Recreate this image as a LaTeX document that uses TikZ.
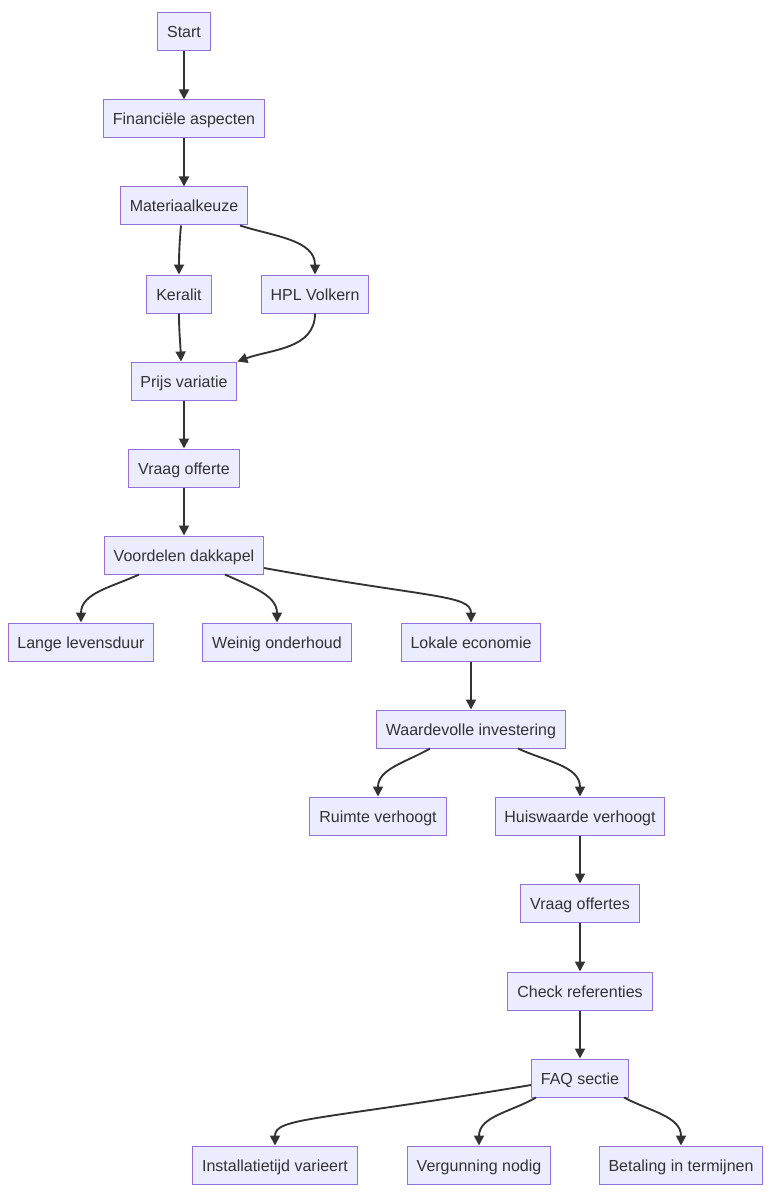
\documentclass[tikz,border=0pt]{standalone}
\usepackage{fontspec}
\setmainfont{Liberation Sans}
\usetikzlibrary{arrows.meta,calc}
\definecolor{mmfill}{HTML}{ECECFF}
\definecolor{mmrand}{HTML}{9370DB}
\definecolor{mmtekst}{HTML}{333333}
\begin{document}
\begin{tikzpicture}[x=0.75pt, y=-0.75pt,
	blok/.style={draw=mmrand, fill=mmfill, line width=0.75pt, text=mmtekst, minimum height=28.5pt, inner xsep=7pt, text height=11pt, text depth=2pt, font=\fontsize{12pt}{14pt}\selectfont},
	pijl/.style={draw=mmtekst, line width=1.4pt, -{Triangle[length=7.5pt, width=7.5pt]}}]
	\useasboundingbox (0,0) rectangle (779,1198);
	\node[blok] (start) at (184,32) {Start};
	\node[blok] (fin) at (184,119) {Financiële aspecten};
	\node[blok] (mat) at (184,206) {Materiaalkeuze};
	\node[blok] (ker) at (179,294) {Keralit};
	\node[blok] (hpl) at (315,294) {HPL Volkern};
	\node[blok] (prijs) at (184,381) {Prijs variatie};
	\node[blok] (vraag) at (184,468) {Vraag offerte};
	\node[blok] (voord) at (184,555) {Voordelen dakkapel};
	\node[blok] (lange) at (81,642) {Lange levensduur};
	\node[blok] (weinig) at (277,642) {Weinig onderhoud};
	\node[blok] (lokaal) at (471,642) {Lokale economie};
	\node[blok] (waarde) at (471,729) {Waardevolle investering};
	\node[blok] (ruimte) at (378,816) {Ruimte verhoogt};
	\node[blok] (huis) at (580,816) {Huiswaarde verhoogt};
	\node[blok] (offertes) at (580,903) {Vraag offertes};
	\node[blok] (check) at (580,991) {Check referenties};
	\node[blok] (faq) at (580,1078) {FAQ sectie};
	\node[blok] (install) at (275,1165) {Installatietijd varieert};
	\node[blok] (verg) at (479,1165) {Vergunning nodig};
	\node[blok] (betaling) at (681,1165) {Betaling in termijnen};
	\draw[pijl] (start) -- (fin);
	\draw[pijl] (fin) -- (mat);
	\draw[pijl] ($(mat.south)+(-3,0)$) to[out=-95, in=90] (ker.north);
	\draw[pijl] ($(mat.south)+(56,0)$) to[out=-18, in=90] (hpl.north);
	\draw[pijl] (ker.south) to[out=-90, in=92] ($(prijs.north)+(-3,0)$);
	\draw[pijl] (hpl.south) to[out=-90, in=20] (prijs.north east);
	\draw[pijl] (prijs) -- (vraag);
	\draw[pijl] (vraag) -- (voord);
	\draw[pijl] ($(voord.south)+(-45,0)$) to[out=-155, in=90] (lange.north);
	\draw[pijl] ($(voord.south)+(41,0)$) to[out=-25, in=90] (weinig.north);
	\draw[pijl] ($(voord.east)+(0,13)$) .. controls +(165,30) and +(0,-28) .. (lokaal.north);
	\draw[pijl] (lokaal) -- (waarde);
	\draw[pijl] ($(waarde.south)+(-41,0)$) to[out=-150, in=90] (ruimte.north);
	\draw[pijl] ($(waarde.south)+(47,0)$) to[out=-25, in=90] (huis.north);
	\draw[pijl] (huis) -- (offertes);
	\draw[pijl] (offertes) -- (check);
	\draw[pijl] (check) -- (faq);
	\draw[pijl] ($(faq.west)+(0,7)$) .. controls +(-215,36) and +(0,-28) .. (install.north);
	\draw[pijl] ($(faq.south)+(-44,0)$) to[out=-150, in=90] (verg.north);
	\draw[pijl] ($(faq.south)+(44,0)$) to[out=-28, in=90] (betaling.north);
\end{tikzpicture}
\end{document}
